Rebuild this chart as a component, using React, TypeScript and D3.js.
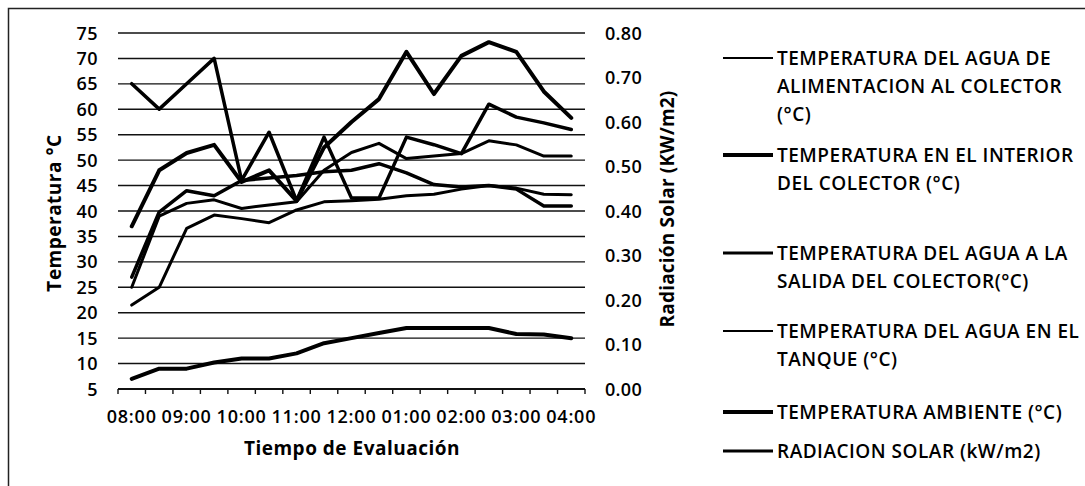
import React from "react";
import * as d3 from "d3";

const categories = ["08:00","08:30","09:00","09:30","10:00","10:30","11:00","11:30","12:00","12:30","01:00","01:30","02:00","02:30","03:00","03:30","04:00"];
const tempAlimentacion = [25, 39, 41.5, 42.2, 40.5, 41.2, 41.8, 48, 51.5, 53.3, 50.3, 50.8, 51.3, 53.8, 53, 50.8, 50.8];
const tempInterior = [37, 48, 51.4, 53, 45.7, 48, 42, 52.5, 57.5, 62, 71.3, 63, 70.5, 73.2, 71.3, 63.5, 58.3];
const tempSalida = [27, 39.8, 44, 43, 46, 46.5, 47, 47.7, 48, 49.3, 47.5, 45.2, 44.7, 45, 44.3, 41, 41];
const tempTanque = [21.5, 25, 36.6, 39.2, 38.5, 37.7, 40.2, 41.8, 42, 42.3, 43, 43.3, 44.3, 45, 44.5, 43.3, 43.2];
const tempAmbiente = [7, 9, 9, 10.2, 11, 11, 12, 14, 15, 16, 17, 17, 17, 17, 15.8, 15.7, 15];
const radiacion = [0.686, 0.629, 0.686, 0.743, 0.469, 0.577, 0.423, 0.566, 0.429, 0.429, 0.566, 0.549, 0.529, 0.64, 0.611, 0.598, 0.583];
const leftTicks = [5, 10, 15, 20, 25, 30, 35, 40, 45, 50, 55, 60, 65, 70, 75];
const rightTicks = [0, 0.1, 0.2, 0.3, 0.4, 0.5, 0.6, 0.7, 0.8];
const legendLabels = [
  ["TEMPERATURA DEL AGUA DE", "ALIMENTACION AL COLECTOR", "(°C)"],
  ["TEMPERATURA EN EL INTERIOR", "DEL COLECTOR (°C)"],
  ["TEMPERATURA DEL AGUA A LA", "SALIDA DEL COLECTOR(°C)"],
  ["TEMPERATURA DEL AGUA EN EL", "TANQUE (°C)"],
  ["TEMPERATURA AMBIENTE (°C)"],
  ["RADIACION SOLAR (kW/m2)"],
];

const FONT = "'Open Sans', sans-serif";

export default function App() {
  const W = 1085, H = 486;
  const left = 118, right = 585, top = 33, bottom = 389;
  const x = d3.scaleBand<string>().domain(categories).range([left, right]);
  const bw = x.bandwidth();
  const cx = (c: string) => (x(c) as number) + bw / 2;
  const yL = d3.scaleLinear().domain([5, 75]).range([bottom, top]);
  const yR = d3.scaleLinear().domain([0, 0.8]).range([bottom, top]);

  const lineL = d3.line<number>().x((_, i) => cx(categories[i])).y((d) => yL(d));
  const lineR = d3.line<number>().x((_, i) => cx(categories[i])).y((d) => yR(d));

  const series = [
    { d: lineL(tempAlimentacion), w: 3 },
    { d: lineL(tempInterior), w: 4 },
    { d: lineL(tempSalida), w: 3.5 },
    { d: lineL(tempTanque), w: 3 },
    { d: lineL(tempAmbiente), w: 4 },
    { d: lineR(radiacion), w: 3.5 },
  ];
  const legendW = [2, 4, 3, 2, 4, 3];
  const legendY = [58, 155, 253, 331, 412, 451];

  const tickXs = [...categories.map((c) => x(c) as number), right];

  return (
    <svg width={W} height={H} style={{ display: "block", position: "absolute", left: 0, top: 0 }}>
      <rect x={0} y={0} width={W} height={H} fill="#fff" />
      <path d={`M8.5,${H} L8.5,8.5 L${W},8.5`} fill="none" stroke="#222" strokeWidth={1.5} />
      {leftTicks.map((t) => (
        <line key={t} x1={left} x2={right} y1={yL(t)} y2={yL(t)} stroke="#111" strokeWidth={t === 5 ? 1.8 : 1.4} />
      ))}
      {tickXs.map((tx, i) => (
        <line key={i} x1={tx} x2={tx} y1={bottom} y2={bottom + 5} stroke="#111" strokeWidth={1.4} />
      ))}
      {leftTicks.map((t) => (
        <text key={t} x={98} y={yL(t) + 6.5} textAnchor="end" fontFamily={FONT} fontWeight={600} fontSize={18} letterSpacing={0.5} fill="#000">{t}</text>
      ))}
      {rightTicks.map((t) => (
        <text key={t} x={605} y={yR(t) + 6.5} textAnchor="start" fontFamily={FONT} fontWeight={600} fontSize={18} letterSpacing={0.3} fill="#000">{t.toFixed(2)}</text>
      ))}
      {categories.map((c, i) => i % 2 === 0 ? (
        <text key={c} x={cx(c)} y={423} textAnchor="middle" fontFamily={FONT} fontWeight={600} fontSize={18} letterSpacing={0.8} fill="#000">{c}</text>
      ) : null)}
      <text x={352} y={455} textAnchor="middle" fontFamily={FONT} fontWeight={700} fontSize={19} letterSpacing={0.5} fill="#000">Tiempo de Evaluación</text>
      <text transform={`translate(61,213) rotate(-90)`} textAnchor="middle" fontFamily={FONT} fontWeight={700} fontSize={19} letterSpacing={0.5} fill="#000">Temperatura °C</text>
      <text transform={`translate(674,209) rotate(-90)`} textAnchor="middle" fontFamily={FONT} fontWeight={700} fontSize={19} letterSpacing={0.2} fill="#000">Radiación Solar (KW/m2)</text>
      {series.map((s, i) => (
        <path key={i} d={s.d as string} fill="none" stroke="#000" strokeWidth={s.w} strokeLinejoin="round" strokeLinecap="round" />
      ))}
      {legendLabels.map((lines, i) => (
        <g key={i}>
          <line x1={723} x2={773} y1={legendY[i]} y2={legendY[i]} stroke="#000" strokeWidth={legendW[i]} />
          {lines.map((ln, j) => (
            <text key={j} x={777} y={legendY[i] + 6.5 + j * 28} fontFamily={FONT} fontWeight={600} fontSize={19} letterSpacing={0.5} fill="#000">{ln}</text>
          ))}
        </g>
      ))}
    </svg>
  );
}
